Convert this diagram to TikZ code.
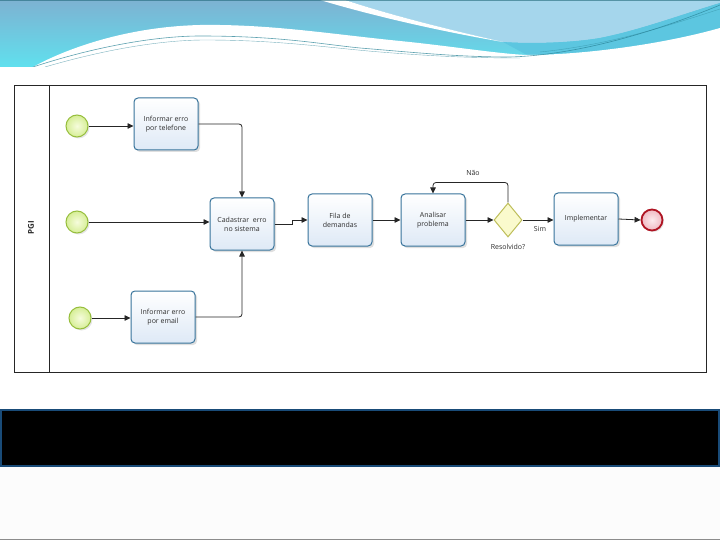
\documentclass[tikz,border=0pt]{standalone}
\usepackage{fontspec}
\setmainfont{Open Sans}
\usetikzlibrary{shapes.geometric,arrows.meta,shadows}
\definecolor{taskborder}{RGB}{55,115,155}
\definecolor{taskfill}{RGB}{222,233,246}
\definecolor{startborder}{RGB}{150,190,60}
\definecolor{startin}{RGB}{246,252,220}
\definecolor{startout}{RGB}{214,238,150}
\definecolor{endborder}{RGB}{175,20,35}
\definecolor{endin}{RGB}{252,235,238}
\definecolor{endout}{RGB}{240,185,195}
\definecolor{gwborder}{RGB}{190,190,90}
\definecolor{gwfill}{RGB}{250,250,205}
\definecolor{hdtop}{RGB}{125,178,210}
\definecolor{hdbot}{RGB}{96,224,238}
\definecolor{hdlight}{RGB}{165,214,236}
\definecolor{hdcyan}{RGB}{92,198,224}
\definecolor{hdline}{RGB}{40,130,150}
\definecolor{barblue}{RGB}{25,75,120}
\definecolor{txt}{RGB}{45,45,45}
\tikzset{
  taskbox/.style={draw=taskborder, line width=1pt, rounded corners=4pt,
    top color=white, bottom color=taskfill, minimum width=64pt, minimum height=52pt,
    align=center, text=txt, font=\fontsize{7}{9}\selectfont, inner sep=1pt,
    drop shadow={shadow xshift=2pt, shadow yshift=-2pt, opacity=0.25}},
  startev/.style={circle, draw=startborder, line width=1pt, minimum size=22pt, inner sep=0pt,
    inner color=startin, outer color=startout,
    drop shadow={shadow xshift=1.5pt, shadow yshift=-1.5pt, opacity=0.2}},
  endev/.style={circle, draw=endborder, line width=1.8pt, minimum size=21pt, inner sep=0pt,
    inner color=endin, outer color=endout,
    drop shadow={shadow xshift=1.5pt, shadow yshift=-1.5pt, opacity=0.2}},
  gateway/.style={diamond, draw=gwborder, line width=1pt, fill=gwfill, aspect=0.82,
    minimum width=28pt, minimum height=34pt, inner sep=0pt},
  flow/.style={draw=black!85, line width=0.8pt, -{Triangle[length=6pt,width=5.5pt]}},
  lbl/.style={text=txt, font=\fontsize{7}{9}\selectfont, inner sep=1pt}
}
\begin{document}
\begin{tikzpicture}[x=1pt,y=-1pt]
\useasboundingbox (0,0) rectangle (720,540);
\fill[white] (0,0) rectangle (720,540);
% header
\fill[top color=hdtop, bottom color=hdbot] (0,0) rectangle (720,67);
\fill[hdlight] (345,0) -- (720,0) -- (720,3) .. controls (680,15) and (640,30) .. (600,38)
   .. controls (570,43) and (530,44) .. (503,42) .. controls (450,30) and (390,15) .. (345,0) -- cycle;
\fill[hdcyan] (503,42) .. controls (530,44) and (570,43) .. (600,38)
   .. controls (640,30) and (680,15) .. (720,3) -- (720,30)
   .. controls (660,45) and (580,55) .. (527,55) -- cycle;
\fill[white] (320,0) -- (345,0) .. controls (390,15) and (450,30) .. (503,42)
   .. controls (450,33) and (380,18) .. (320,0) -- cycle;
\fill[white] (33,67) .. controls (60,52) and (120,27) .. (200,25)
   .. controls (270,24) and (330,34) .. (400,41) .. controls (450,46) and (500,54) .. (527,55)
   .. controls (580,55) and (660,45) .. (720,28) -- (720,67) -- cycle;
\draw[hdline, line width=0.6pt, opacity=0.75] (33,67) .. controls (100,45) and (160,36) .. (200,36)
   .. controls (280,36) and (320,44) .. (360,48) .. controls (420,53) and (460,57) .. (510,57)
   .. controls (580,55) and (660,30) .. (720,5);
\draw[hdline, line width=0.4pt, opacity=0.6] (45,67) .. controls (110,48) and (165,40) .. (205,40)
   .. controls (280,40) and (330,48) .. (380,52) .. controls (430,56) and (470,58) .. (520,58);
\draw[hdline, line width=0.4pt, opacity=0.5] (540,52) .. controls (610,45) and (670,25) .. (720,9);
\draw[hdline!80!black, line width=0.8pt, opacity=0.6] (0,0.4) -- (720,0.4);
\fill[white] (0,67) rectangle (720,84);
% pool
\draw[black!85, line width=0.7pt] (14,85) rectangle (706,372);
\draw[black!85, line width=0.7pt] (49,85) -- (49,372);
\node[rotate=90, font=\bfseries\fontsize{8}{9}\selectfont, text=txt] (pgi) at (31,228) {PGI};
% nodes
\node[startev] (s1) at (77,126) {};
\node[startev] (s2) at (77,222) {};
\node[startev] (s3) at (80,318) {};
\node[taskbox] (tel) at (166,124) {Informar erro\\por telefone};
\node[taskbox] (cad) at (242,224) {Cadastrar\ \ erro\\no sistema};
\node[taskbox] (email) at (163,317) {Informar erro\\por email};
\node[taskbox] (fila) at (340,220) {Fila de\\demandas};
\node[taskbox] (ana) at (433,220) {Analisar\\problema};
\node[gateway] (dia) at (508,220) {};
\node[taskbox] (impl) at (586,219) {Implementar};
\node[endev] (fim) at (652,220) {};
% labels
\node[lbl] (nao) at (473,173) {Não};
\node[lbl] (sim) at (540,229) {Sim};
\node[lbl] (res) at (508,247) {Resolvido?};
% connectors
\draw[flow] (s1.east) -- (s1.east -| tel.west);
\draw[flow, rounded corners=3pt] (tel.east) -| (cad.north);
\draw[flow] (s2.east) -- (s2.east -| cad.west);
\draw[flow, rounded corners=3pt] (email.east) -| (cad.south);
\draw[flow] (s3.east) -- (s3.east -| email.west);
\draw[flow] (cad.east) -- ([xshift=18pt]cad.east) |- (fila.west);
\draw[flow] (fila.east) -- (ana.west);
\draw[flow] (ana.east) -- (dia.west);
\draw[flow, rounded corners=3pt] (dia.north) -- ++(0,-20) -| (ana.north);
\draw[flow] (dia.east) -- (dia.east -| impl.west);
\draw[flow] (impl.east) -- (fim.west);
% bottom bar
\fill[black!1] (0,467) rectangle (720,540);
\draw[black!45, line width=0.6pt] (0,539.5) -- (720,539.5);
\filldraw[fill=black, draw=barblue, line width=2pt] (1,410) rectangle (719,466);
\end{tikzpicture}
\end{document}
